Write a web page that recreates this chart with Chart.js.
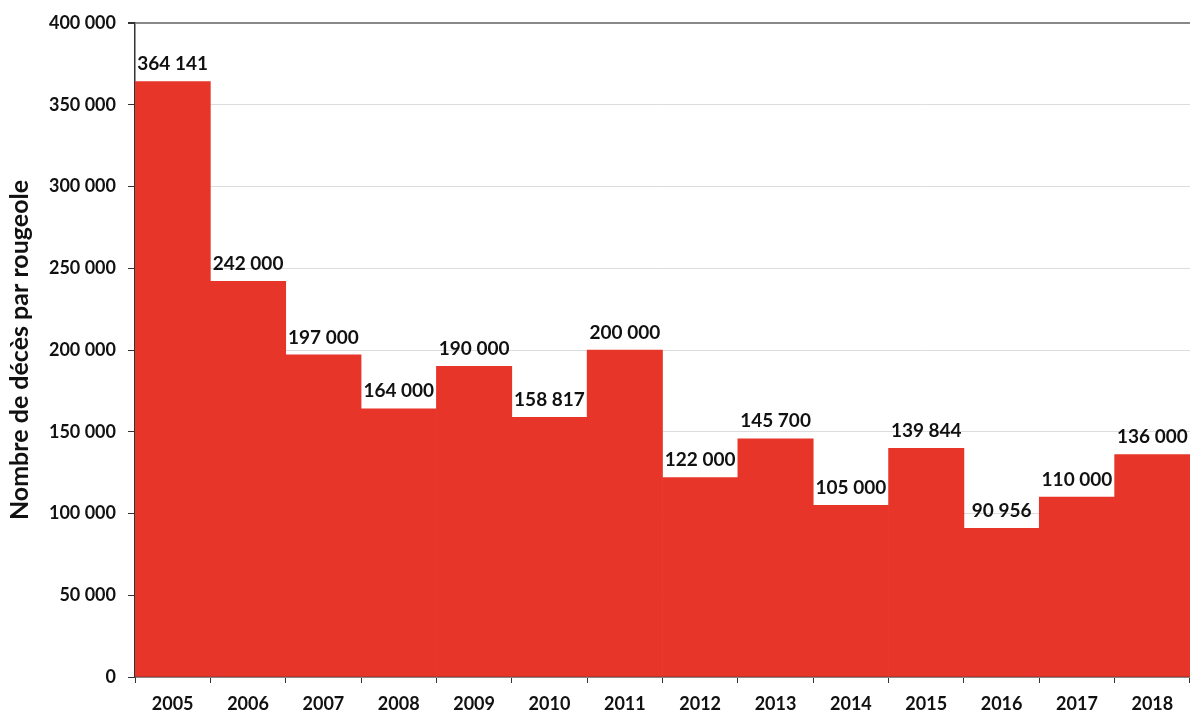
<!DOCTYPE html>
<html>
<head>
<meta charset="utf-8">
<script src="https://cdn.jsdelivr.net/npm/chart.js@4/dist/chart.umd.min.js"></script>
<style>
  html, body { margin: 0; padding: 0; background: #fff; }
  #wrap { width: 1190px; height: 713px; }
</style>
</head>
<body>
<div id="wrap"><canvas id="chart"></canvas></div>
<script>
// measles deaths per year
const years = ['2005', '2006', '2007', '2008', '2009', '2010', '2011', '2012', '2013', '2014', '2015', '2016', '2017', '2018'];
const deaths = [364141, 242000, 197000, 164000, 190000, 158817, 200000, 122000, 145700, 105000, 139844, 90956, 110000, 136000];
const yTicks = [0, 50000, 100000, 150000, 200000, 250000, 300000, 350000, 400000];

const FONT = 'Lato, "Open Sans", sans-serif';

function fmt(v) {
    return String(v).replace(/\B(?=(\d{3})+(?!\d))/g, ' ');
}

// value labels above each bar
const barLabels = {
    id: 'barLabels',
    afterDatasetsDraw(chart) {
        const ctx = chart.ctx;
        const meta = chart.getDatasetMeta(0);
        ctx.save();
        ctx.font = 'bold 19px ' + FONT;
        ctx.fillStyle = '#111';
        ctx.textAlign = 'center';
        ctx.textBaseline = 'bottom';
        meta.data.forEach((bar, i) => {
            ctx.fillText(fmt(deaths[i]), bar.x, bar.y - 8);
        });
        ctx.restore();
    }
};

new Chart(document.getElementById('chart'), {
    type: 'bar',
    data: {
        labels: years,
        datasets: [{
            data: deaths,
            backgroundColor: '#e8352a',
            barPercentage: 1,
            categoryPercentage: 1,
            borderWidth: 0
        }]
    },
    options: {
        responsive: true,
        maintainAspectRatio: false,
        animation: false,
        layout: { padding: { top: 23, right: 0, left: 0, bottom: 0 } },
        plugins: { legend: { display: false }, tooltip: { enabled: false } },
        scales: {
            x: {
                offset: true,
                grid: { offset: true, drawOnChartArea: false, tickLength: 6, color: '#333' },
                border: { color: '#333', width: 1.5 },
                ticks: { color: '#111', padding: 10, font: { family: FONT, weight: 'bold', size: 18 } },
                afterFit: s => { s.height = 36; }
            },
            y: {
                min: 0,
                max: 400000,
                afterBuildTicks: s => { s.ticks = yTicks.map(v => ({ value: v })); },
                grid: {
                    color: c => c.tick && c.tick.value === 400000 ? '#888' : '#ddd',
                    lineWidth: c => c.tick && c.tick.value === 400000 ? 2 : 1,
                    tickLength: 7,
                    tickColor: '#333'
                },
                border: { color: '#333', width: 1.5 },
                ticks: {
                    color: '#111',
                    padding: 12,
                    font: { family: FONT, weight: 'bold', size: 18 },
                    callback: v => fmt(v)
                },
                title: {
                    display: true,
                    text: 'Nombre de décès par rougeole',
                    color: '#111',
                    font: { family: FONT, weight: 'bold', size: 25 },
                    padding: { top: 5, bottom: 0 }
                },
                afterFit: s => { s.width = 135; }
            }
        }
    },
    plugins: [barLabels]
});
</script>
</body>
</html>
